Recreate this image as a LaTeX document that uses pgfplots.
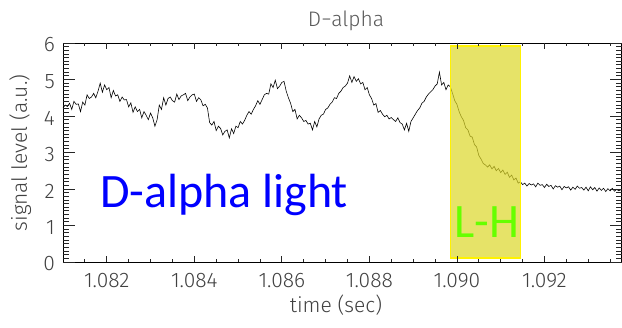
\documentclass[border=0pt]{standalone}
\usepackage{pgfplots}
\pgfplotsset{compat=1.18}
\usepackage{fontspec}
\newfontfamily\idl{Fira Sans Light}
\newfontfamily\carlito{Carlito}
\definecolor{lhyellow}{RGB}{220,215,40}
\definecolor{lhgreen}{RGB}{102,255,0}
\begin{document}
\begin{tikzpicture}[tk/.style={black!85, line width=0.8pt}]
\begin{axis}[name=ax,
  scale only axis, width=558.5pt, height=219pt,
  xmin=1.081, xmax=1.09376, ymin=0, ymax=6,
  xtick={1.082,1.084,1.086,1.088,1.090,1.092},
  xticklabels={1.082,1.084,1.086,1.088,1.090,1.092},
  major tick length=0pt, minor tick length=0pt,
  ytick=\empty,
  scaled x ticks=false,
  ticklabel style={font=\idl\fontsize{21}{21}\selectfont, text=black!75},
  xticklabel style={inner sep=0pt, yshift=-11pt},
]
\addplot[black, line width=0.6pt] coordinates {
(1.08100,4.22) (1.08105,4.30) (1.08110,4.26) (1.08115,4.35) (1.08120,4.18) (1.08125,4.40) (1.08130,4.32) (1.08135,4.33)
(1.08140,4.12) (1.08145,4.38) (1.08150,4.30) (1.08155,4.58) (1.08160,4.48) (1.08165,4.52) (1.08170,4.62) (1.08175,4.50)
(1.08180,4.68) (1.08185,4.90) (1.08190,4.65) (1.08195,4.85) (1.08200,4.72) (1.08205,4.78) (1.08210,4.50) (1.08215,4.70)
(1.08220,4.55) (1.08225,4.58) (1.08230,4.40) (1.08235,4.52) (1.08240,4.44) (1.08245,4.45) (1.08250,4.25) (1.08255,4.36)
(1.08260,4.10) (1.08265,4.25) (1.08270,4.12) (1.08275,4.18) (1.08280,3.95) (1.08285,4.12) (1.08290,4.02) (1.08295,3.90)
(1.08300,4.08) (1.08305,3.95) (1.08310,3.72) (1.08315,3.90) (1.08320,4.30) (1.08325,4.18) (1.08330,4.50) (1.08335,4.30)
(1.08340,4.48) (1.08345,4.52) (1.08350,4.42) (1.08355,4.38) (1.08360,4.60) (1.08365,4.45) (1.08370,4.55) (1.08375,4.58)
(1.08380,4.62) (1.08385,4.42) (1.08390,4.52) (1.08395,4.58) (1.08400,4.60) (1.08405,4.40) (1.08410,4.50) (1.08415,4.44)
(1.08420,4.28) (1.08425,4.32) (1.08430,4.22) (1.08435,3.82) (1.08440,3.75) (1.08445,3.85) (1.08450,3.60) (1.08455,3.72)
(1.08460,3.66) (1.08465,3.48) (1.08470,3.58) (1.08475,3.62) (1.08480,3.40) (1.08485,3.65) (1.08490,3.52) (1.08495,3.72)
(1.08500,3.68) (1.08505,3.85) (1.08510,3.78) (1.08515,3.88) (1.08520,4.02) (1.08525,4.12) (1.08530,4.05) (1.08535,4.18)
(1.08540,4.28) (1.08545,4.42) (1.08550,4.32) (1.08555,4.45) (1.08560,4.58) (1.08565,4.62) (1.08570,4.60) (1.08575,4.88)
(1.08580,4.78) (1.08585,4.98) (1.08590,4.75) (1.08595,4.82) (1.08600,4.92) (1.08605,4.95) (1.08610,4.68) (1.08615,4.50)
(1.08620,4.35) (1.08625,4.12) (1.08630,4.18) (1.08635,3.92) (1.08640,4.02) (1.08645,3.95) (1.08650,3.85) (1.08655,3.88)
(1.08660,3.78) (1.08665,3.80) (1.08670,3.62) (1.08675,3.85) (1.08680,3.70) (1.08685,3.92) (1.08690,4.02) (1.08695,4.05)
(1.08700,4.18) (1.08705,4.22) (1.08710,4.32) (1.08715,4.38) (1.08720,4.50) (1.08725,4.48) (1.08730,4.62) (1.08735,4.68)
(1.08740,4.78) (1.08745,4.82) (1.08750,4.90) (1.08755,5.10) (1.08760,4.92) (1.08765,5.08) (1.08770,4.95) (1.08775,5.02)
(1.08780,4.88) (1.08785,4.92) (1.08790,4.72) (1.08795,4.78) (1.08800,4.58) (1.08805,4.48) (1.08810,4.30) (1.08815,4.34)
(1.08820,4.10) (1.08825,4.15) (1.08830,4.05) (1.08835,3.98) (1.08840,4.02) (1.08845,3.92) (1.08850,3.96) (1.08855,3.90)
(1.08860,3.85) (1.08865,3.95) (1.08870,3.82) (1.08875,3.78) (1.08880,3.62) (1.08885,3.80) (1.08890,3.58) (1.08895,3.85)
(1.08900,3.95) (1.08905,4.05) (1.08910,4.15) (1.08915,4.22) (1.08920,4.35) (1.08925,4.40) (1.08930,4.52) (1.08935,4.60)
(1.08940,4.66) (1.08945,4.72) (1.08950,4.82) (1.08955,4.88) (1.08960,5.20) (1.08965,4.85) (1.08970,4.92) (1.08975,4.72)
(1.08980,4.85) (1.08985,4.80) (1.08990,4.62) (1.08995,4.42) (1.09000,4.32) (1.09005,4.12) (1.09010,3.98) (1.09015,3.88)
(1.09020,3.68) (1.09025,3.62) (1.09030,3.45) (1.09035,3.42) (1.09040,3.22) (1.09045,3.15) (1.09050,2.92) (1.09055,2.82)
(1.09060,2.70) (1.09065,2.66) (1.09070,2.60) (1.09075,2.66) (1.09080,2.55) (1.09085,2.62) (1.09090,2.50) (1.09095,2.56)
(1.09100,2.45) (1.09105,2.52) (1.09110,2.40) (1.09115,2.46) (1.09120,2.32) (1.09125,2.38) (1.09130,2.25) (1.09135,2.30)
(1.09140,2.16) (1.09145,2.20) (1.09150,2.12) (1.09155,2.16) (1.09160,2.08) (1.09165,2.15) (1.09170,2.11) (1.09175,2.14)
(1.09180,2.06) (1.09185,2.16) (1.09190,2.10) (1.09195,2.12) (1.09200,2.04) (1.09205,2.13) (1.09210,2.07) (1.09215,2.10)
(1.09220,2.00) (1.09225,2.09) (1.09230,2.05) (1.09235,2.08) (1.09240,1.98) (1.09245,2.07) (1.09250,2.03) (1.09255,2.06)
(1.09260,1.97) (1.09265,2.05) (1.09270,1.99) (1.09275,2.08) (1.09280,2.02) (1.09285,2.04) (1.09290,1.97) (1.09295,2.05)
(1.09300,1.95) (1.09305,2.06) (1.09310,1.98) (1.09315,2.04) (1.09320,1.94) (1.09325,2.03) (1.09330,1.96) (1.09335,2.02)
(1.09340,1.93) (1.09345,2.01) (1.09350,1.95) (1.09355,2.02) (1.09360,1.94) (1.09365,1.99) (1.09370,1.95) (1.09375,1.98)
};
\draw[yellow, line width=1.6pt, fill=lhyellow, fill opacity=0.7]
  (axis cs:1.08985,0.11) rectangle (axis cs:1.09145,5.92);
\end{axis}
\begin{axis}[
  scale only axis, width=558.5pt, height=219pt,
  xmin=1.081, xmax=1.09376, ymin=0, ymax=6,
  clip=false,
  xtick=\empty,
  ytick={0,1,2,3,4,5,6}, yticklabels={0,1,2,3,4,5,6},
  major tick length=0pt, minor tick length=0pt,
  ticklabel style={font=\idl\fontsize{21}{21}\selectfont, text=black!75},
  yticklabel style={inner sep=0pt, xshift=-8pt, yshift=-2pt},
]
\pgfplotsinvokeforeach{1.082,1.084,1.086,1.088,1.090,1.092}{
  \draw[tk] (axis cs:#1,0) -- ++(0pt,6pt);
  \draw[tk] (axis cs:#1,6) -- ++(0pt,-6pt);
}
\pgfplotsinvokeforeach{1.0815,1.0825,1.083,1.0835,1.0845,1.085,1.0855,1.0865,1.087,1.0875,1.0885,1.089,1.0895,1.0905,1.091,1.0915,1.0925,1.093,1.0935}{
  \draw[tk] (axis cs:#1,0) -- ++(0pt,3pt);
  \draw[tk] (axis cs:#1,6) -- ++(0pt,-3pt);
}
\pgfplotsinvokeforeach{0,1,2,3,4,5,6}{
  \draw[tk] (axis cs:1.081,#1) -- ++(12pt,0pt);
  \draw[tk] (axis cs:1.09376,#1) -- ++(-12pt,0pt);
}
\pgfplotsinvokeforeach{0,1,2,3,4,5}{
  \draw[tk] (axis cs:1.081,#1.1) -- ++(6pt,0pt);
  \draw[tk] (axis cs:1.081,#1.2) -- ++(6pt,0pt);
  \draw[tk] (axis cs:1.081,#1.3) -- ++(6pt,0pt);
  \draw[tk] (axis cs:1.081,#1.4) -- ++(6pt,0pt);
  \draw[tk] (axis cs:1.081,#1.5) -- ++(6pt,0pt);
  \draw[tk] (axis cs:1.081,#1.6) -- ++(6pt,0pt);
  \draw[tk] (axis cs:1.081,#1.7) -- ++(6pt,0pt);
  \draw[tk] (axis cs:1.081,#1.8) -- ++(6pt,0pt);
  \draw[tk] (axis cs:1.081,#1.9) -- ++(6pt,0pt);
  \draw[tk] (axis cs:1.09376,#1.1) -- ++(-6pt,0pt);
  \draw[tk] (axis cs:1.09376,#1.2) -- ++(-6pt,0pt);
  \draw[tk] (axis cs:1.09376,#1.3) -- ++(-6pt,0pt);
  \draw[tk] (axis cs:1.09376,#1.4) -- ++(-6pt,0pt);
  \draw[tk] (axis cs:1.09376,#1.5) -- ++(-6pt,0pt);
  \draw[tk] (axis cs:1.09376,#1.6) -- ++(-6pt,0pt);
  \draw[tk] (axis cs:1.09376,#1.7) -- ++(-6pt,0pt);
  \draw[tk] (axis cs:1.09376,#1.8) -- ++(-6pt,0pt);
  \draw[tk] (axis cs:1.09376,#1.9) -- ++(-6pt,0pt);
}
\end{axis}
\node[anchor=base, inner sep=0pt, font=\idl\fontsize{21}{21}\selectfont, text=black!65]
  at ([shift={(283pt,235pt)}]ax.south west) {D−alpha};
\node[anchor=base, inner sep=0pt, font=\idl\fontsize{21}{21}\selectfont, text=black!75]
  at ([shift={(273pt,-51pt)}]ax.south west) {time (sec)};
\node[anchor=base, rotate=90, inner sep=0pt, font=\idl\fontsize{21}{21}\selectfont, text=black!75]
  at ([shift={(-36pt,109pt)}]ax.south west) {signal level (a.u.)};
\node[anchor=base west, inner sep=0pt, font=\carlito\fontsize{48}{48}\selectfont, text=blue]
  at ([shift={(37pt,54pt)}]ax.south west) {D-alpha light};
\node[anchor=base west, inner sep=0pt, font=\carlito\fontsize{48}{48}\selectfont, text=lhgreen]
  at ([shift={(391pt,24pt)}]ax.south west) {L-H};
\pgfresetboundingbox
\path[use as bounding box] ([shift={(-63pt,-66pt)}]ax.south west) rectangle ++(622pt,328pt);
\end{tikzpicture}
\end{document}
